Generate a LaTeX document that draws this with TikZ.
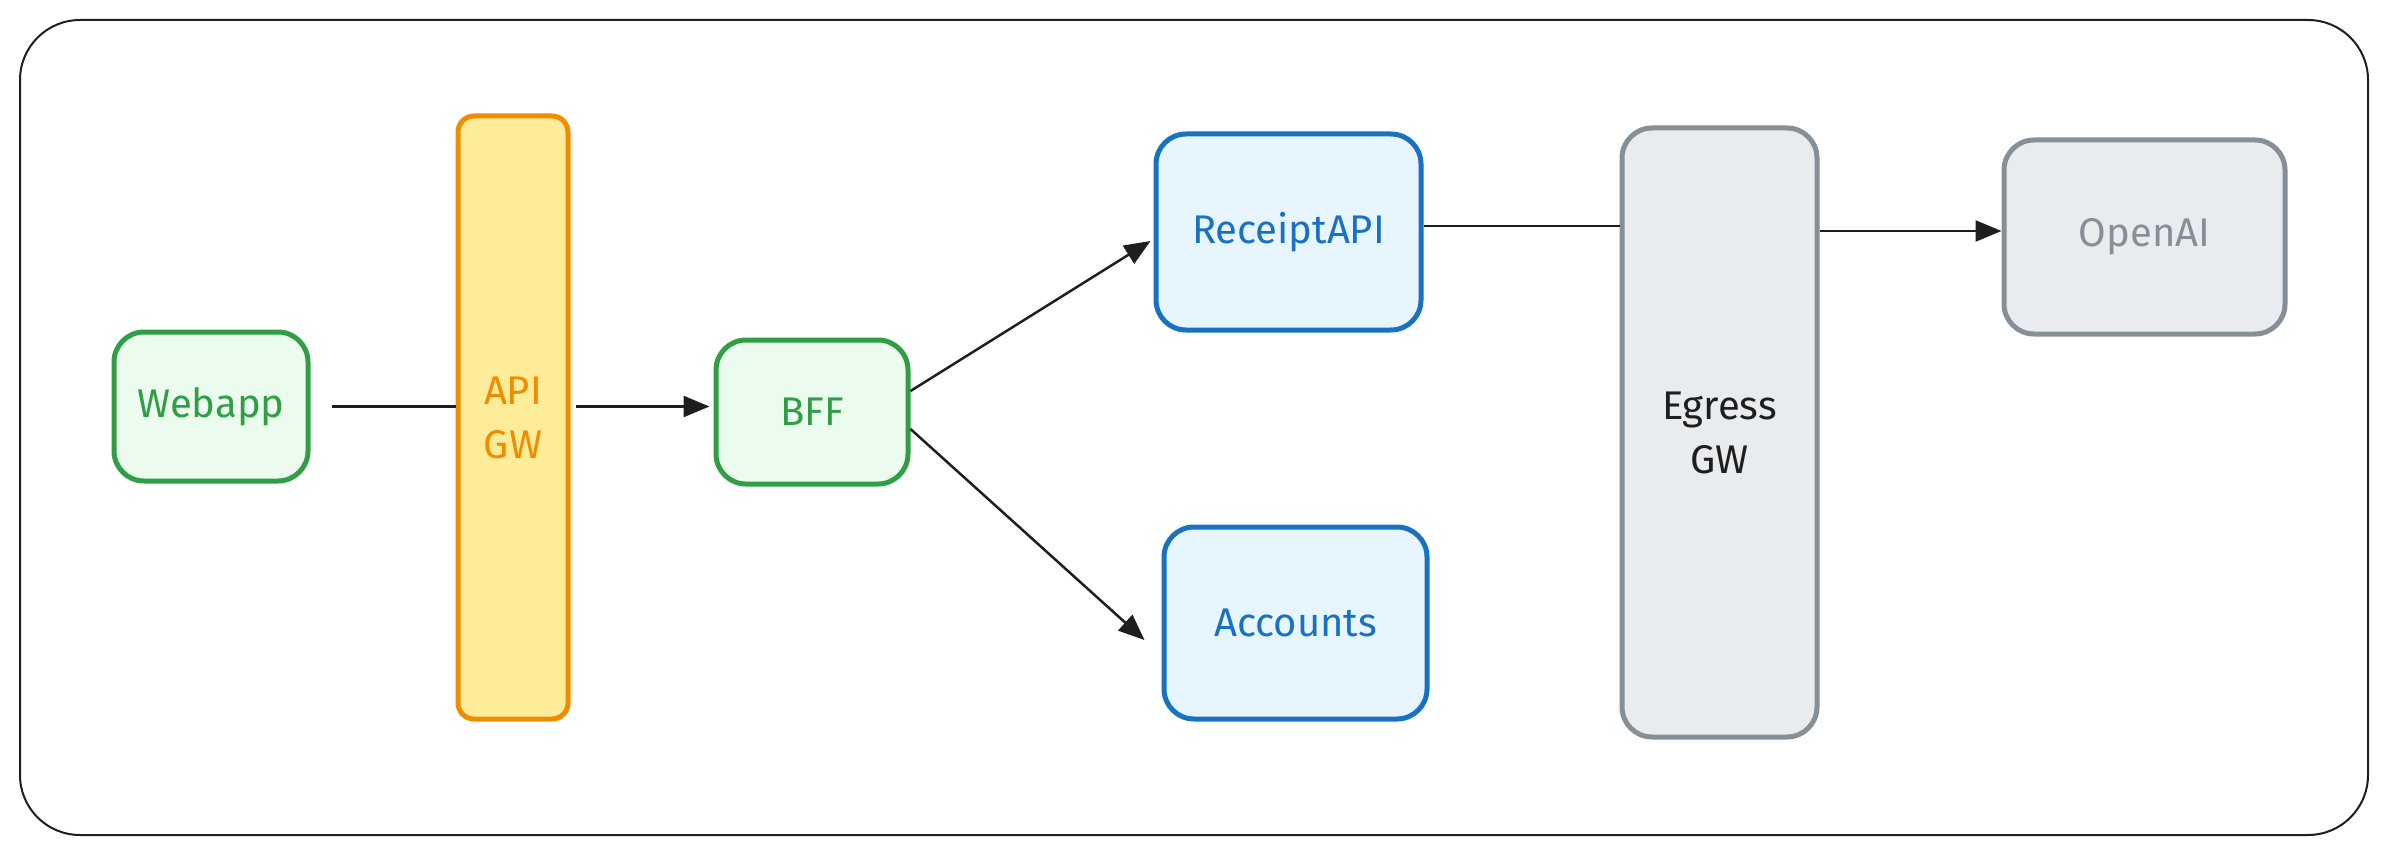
\documentclass[tikz,border=0pt]{standalone}
\usepackage{fontspec}
\setmainfont{Fira Sans}
\usetikzlibrary{arrows.meta}
\definecolor{gstroke}{HTML}{2F9E44}
\definecolor{gfill}{HTML}{EBFBEE}
\definecolor{ostroke}{HTML}{F08C00}
\definecolor{ofill}{HTML}{FFEC99}
\definecolor{bstroke}{HTML}{1971C2}
\definecolor{bfill}{HTML}{E7F5FF}
\definecolor{kstroke}{HTML}{868E96}
\definecolor{kfill}{HTML}{E9ECEF}
\definecolor{ink}{HTML}{1E1E1E}
\tikzset{
  box/.style={rounded corners=30pt, line width=5pt, inner sep=0pt, align=center,
    font=\fontsize{40}{54}\selectfont},
  greenbox/.style={box, draw=gstroke, fill=gfill, text=gstroke},
  orangebox/.style={box, draw=ostroke, fill=ofill, text=ostroke, rounded corners=16pt},
  bluebox/.style={box, draw=bstroke, fill=bfill, text=bstroke},
  graybox/.style={box, draw=kstroke, fill=kfill, text=kstroke},
  gwbox/.style={box, draw=kstroke, fill=kfill, text=ink},
  conn/.style={draw=ink, line width=2.5pt},
  arr/.style={conn, -{Triangle[length=26pt, width=21pt]}},
}
\begin{document}
\begin{tikzpicture}[x=1pt, y=-1pt]
\useasboundingbox (0,0) rectangle (2388,856);
\draw[ink, line width=2pt, rounded corners=60pt] (20,20) rectangle (2368,835);

\node[greenbox, minimum width=194pt, minimum height=149pt] (web) at (211,406.5) {Webapp};
\node[orangebox, minimum width=110pt, minimum height=603pt] (api) at (513,417.5) {API\\GW};
\node[greenbox, minimum width=192pt, minimum height=144pt] (bff) at (812,412) {BFF};
\node[bluebox, minimum width=265pt, minimum height=196pt] (rec) at (1288.5,232) {ReceiptAPI};
\node[bluebox, minimum width=263pt, minimum height=192pt] (acc) at (1295.5,623) {Accounts};
\node[gwbox, minimum width=195pt, minimum height=609pt] (egr) at (1719.5,432.5) {Egress\\GW};
\node[graybox, minimum width=281pt, minimum height=194pt] (oai) at (2144.5,237) {OpenAI};

\draw[conn] ([xshift=21pt]web.east) -- (web.east -| api.west);
\draw[arr] ([xshift=5pt]web.east -| api.east) -- ([xshift=-4pt]web.east -| bff.west);
\draw[arr] ([yshift=21pt]bff.east) -- ([xshift=-3pt,yshift=-9pt]rec.west);
\draw[arr] ([yshift=-17pt]bff.east) -- ([xshift=-17pt,yshift=-17pt]acc.west);
\draw[conn] ([yshift=6pt]rec.east) -- ([yshift=6pt]rec.east -| egr.west);
\draw[arr] ([yshift=6pt]oai.west -| egr.east) -- ([yshift=6pt]oai.west);
\end{tikzpicture}
\end{document}
